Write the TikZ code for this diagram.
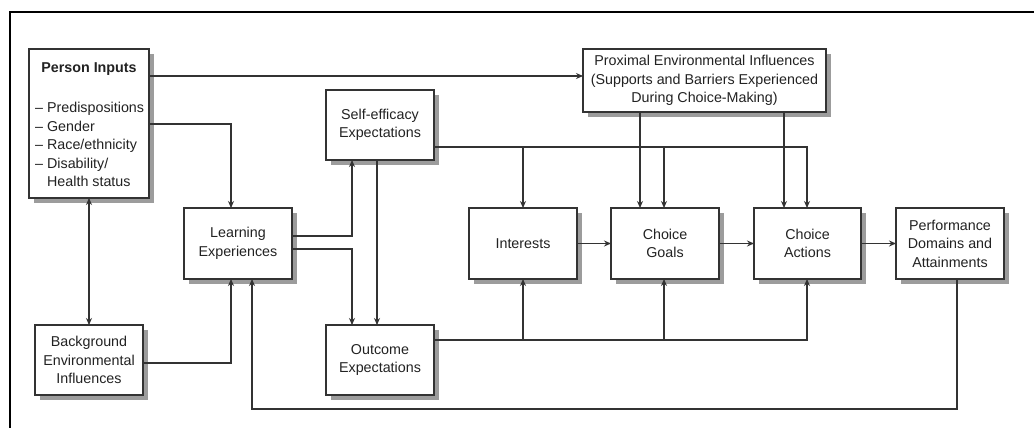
\documentclass[tikz,border=0pt]{standalone}
\usepackage{fontspec}
\setmainfont{Liberation Sans}
\usetikzlibrary{arrows.meta,shadows}
\definecolor{ink}{HTML}{222222}
\definecolor{edge}{HTML}{333333}
\definecolor{shade}{HTML}{9C9C9C}

\begin{document}
\begin{tikzpicture}[x=1pt,y=-1pt,
  txt/.style={text=ink, font=\fontsize{14.3}{18.5}\selectfont, inner sep=0pt, align=center},
  box/.style={txt, draw=edge, line width=1.3pt, fill=white, outer sep=0pt,
    drop shadow={shadow xshift=5pt, shadow yshift=-5pt, fill=shade, opacity=1}},
  std/.style={box, minimum width=108pt, minimum height=71pt},
  link/.style={draw=edge, line width=1.1pt},
  arr/.style={link, -{Stealth[length=7pt,width=6pt]}},
  biarr/.style={link, {Stealth[length=7pt,width=6pt]}-{Stealth[length=7pt,width=6pt]}}]

\useasboundingbox (0,0) rectangle (1034,428);
\fill[white] (0,0) rectangle (1034,428);

% frame
\draw[line width=2pt, black] (10,428) -- (10,12) -- (1034,12);

% boxes
\node[box, minimum width=120pt, minimum height=149pt] (pin) at (89,123.5) {};
\node[txt, font=\fontsize{14.3}{18.5}\selectfont\bfseries] (pintitle) at (89,69) {Person Inputs};
\node[txt, align=left, anchor=west] (pinlist) at (35,144.5)
  {– Predispositions\\– Gender\\– Race/ethnicity\\– Disability/\\\phantom{– }Health status};

\node[std, minimum height=70pt] (bkg) at (89,360) {Background\\Environmental\\Influences};
\node[std] (lrn) at (238,243.5) {Learning\\Experiences};
\node[std, minimum height=70pt] (sef) at (380,125) {Self-efficacy\\Expectations};
\node[std, minimum height=70pt] (out) at (380,360) {Outcome\\Expectations};
\node[std] (int) at (523,243.5) {Interests};
\node[std] (gol) at (665,243.5) {Choice\\Goals};
\node[std, minimum width=107pt] (act) at (807.5,243.5) {Choice\\Actions};
\node[std] (prf) at (950,243.5) {Performance\\Domains and\\Attainments};
\node[box, minimum width=243pt, minimum height=63pt] (prx) at (704.5,80.5)
  {Proximal Environmental Influences\\(Supports and Barriers Experienced\\During Choice-Making)};

% rail levels and columns
\coordinate (r76) at (0,76);
\coordinate (r124) at (0,124);
\coordinate (r147) at (0,147);
\coordinate (r236) at (0,236);
\coordinate (r249) at (0,249);
\coordinate (r340) at (0,340);
\coordinate (r363) at (0,363);
\coordinate (r409) at (0,409);
\coordinate (c231) at (231,0);
\coordinate (c252) at (252,0);
\coordinate (c352) at (352,0);
\coordinate (c377) at (377,0);
\coordinate (c523) at (523,0);
\coordinate (c640) at (640,0);
\coordinate (c664) at (664,0);
\coordinate (c784) at (784,0);
\coordinate (c807) at (807,0);
\coordinate (c957) at (957,0);

% connectors
\draw[arr] (pin.east |- r76) -- (prx.west |- r76);
\draw[arr] (pin.east |- r124) -| (c231 |- lrn.north);
\draw[biarr] (pin.south) -- (bkg.north);
\draw[arr] (bkg.east |- r363) -| (c231 |- lrn.south);
\draw[arr] (lrn.east |- r236) -| (c352 |- sef.south);
\draw[arr] (lrn.east |- r249) -| (c352 |- out.north);
\draw[arr] (c377 |- sef.south) -- (c377 |- out.north);

\draw[arr] (sef.east |- r147) -| (c807 |- act.north);
\draw[arr] (c523 |- r147) -- (c523 |- int.north);
\draw[arr] (c664 |- r147) -- (c664 |- gol.north);

\draw[arr] (out.east |- r340) -| (c807 |- act.south);
\draw[arr] (c523 |- r340) -- (c523 |- int.south);
\draw[arr] (c664 |- r340) -- (c664 |- gol.south);

\draw[arr] (c640 |- prx.south) -- (c640 |- gol.north);
\draw[arr] (c784 |- prx.south) -- (c784 |- act.north);

\draw[arr] (int.east) -- (gol.west);
\draw[arr] (gol.east) -- (act.west);
\draw[arr] (act.east) -- (prf.west);

\draw[arr] (c957 |- prf.south) -- (c957 |- r409) -| (c252 |- lrn.south);

\end{tikzpicture}
\end{document}
